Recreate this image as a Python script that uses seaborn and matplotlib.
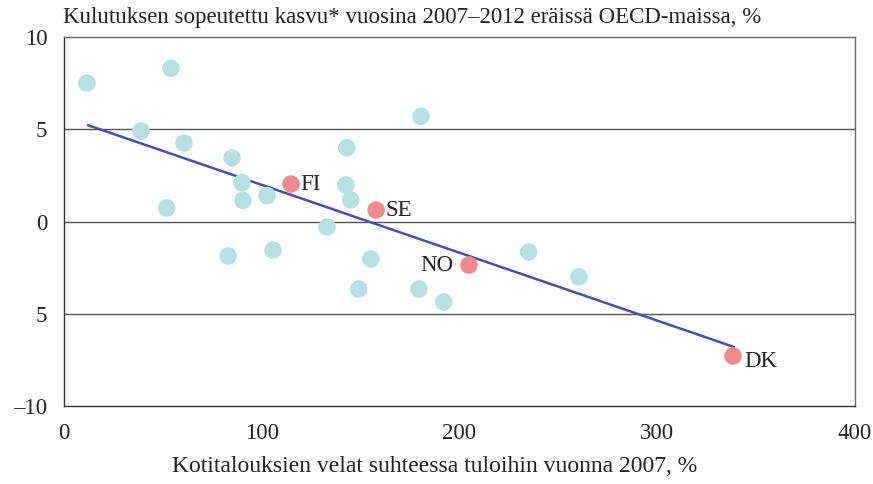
import matplotlib
matplotlib.use("Agg")
import matplotlib.pyplot as plt
import seaborn as sns
import pandas as pd

# Data
other_x = [11.6, 54.1, 38.9, 60.7, 85.0, 90.0, 90.5, 102.7, 52.0, 83.0, 105.7,
           143.0, 142.5, 145.0, 180.5, 133.0, 155.2, 149.0, 179.5, 192.0, 235.0, 260.4]
other_y = [7.5, 8.3, 4.9, 4.25, 3.45, 2.1, 1.15, 1.4, 0.73, -1.87, -1.55,
           4.0, 1.98, 1.17, 5.7, -0.3, -2.03, -3.66, -3.66, -4.36, -1.65, -3.0]
nordic_labels = ["FI", "SE", "NO", "DK"]
nordic_x = [114.8, 157.8, 204.8, 338.3]
nordic_y = [2.03, 0.62, -2.36, -7.29]
trend_x = [12.1, 338.8]
trend_y = [5.22, -6.8]
yticks = [10, 5, 0, -5, -10]
ytick_labels = ["10", "5", "0", "5", "\u201310"]
xticks = [0, 100, 200, 300, 400]
title = "Kulutuksen sopeutettu kasvu* vuosina 2007\u20132012 eräissä OECD-maissa, %"
xlabel = "Kotitalouksien velat suhteessa tuloihin vuonna 2007, %"

sns.set_theme(style="white")
plt.rcParams["font.family"] = ["Liberation Serif", "DejaVu Serif"]

df = pd.DataFrame({
    "x": other_x + nordic_x,
    "y": other_y + nordic_y,
    "group": ["other"] * len(other_x) + ["nordic"] * len(nordic_x),
})

fig = plt.figure(figsize=(8.73, 4.84), dpi=100)
ax = fig.add_axes([64 / 873, 1 - 406 / 484, (855 - 64) / 873, (406 - 37) / 484])

for yv in [5, 0, -5]:
    ax.axhline(yv, color="#555555", lw=1.0, zorder=1)

sns.lineplot(x=trend_x, y=trend_y, ax=ax, color="#4a4fa8", lw=1.8, zorder=2)
sns.scatterplot(data=df, x="x", y="y", hue="group",
                palette={"other": "#b6e0e1", "nordic": "#ef8b90"},
                s=160, linewidth=0, ax=ax, legend=False, zorder=3)

offsets = {"FI": (7, 0, "left"), "SE": (7, 0, "left"), "NO": (-11, 0, "right"),
           "DK": (8, -4, "left")}
for lab, xv, yv in zip(nordic_labels, nordic_x, nordic_y):
    dx, dy, ha = offsets[lab]
    ax.annotate(lab, (xv, yv), xytext=(dx, dy), textcoords="offset points",
                ha=ha, va="center", fontsize=16.5, color="#222222")

ax.set_xlim(0, 400)
ax.set_ylim(-10, 10)
ax.set_xticks(xticks)
ax.set_xticklabels([str(t) for t in xticks])
ax.set_yticks(yticks)
ax.set_yticklabels(ytick_labels)
ax.tick_params(axis="x", direction="in", length=7, width=0.8, color="#555555",
               labelsize=16.5, pad=12, labelcolor="#222222")
ax.tick_params(axis="y", length=0, labelsize=16.5, pad=12, labelcolor="#222222")
ax.set_xlabel(xlabel, fontsize=17, color="#222222")
ax.xaxis.set_label_coords(0.468, -0.135)
ax.set_ylabel("")

for side in ["left", "bottom"]:
    ax.spines[side].set_color("#333333")
    ax.spines[side].set_linewidth(1.0)
for side in ["top", "right"]:
    ax.spines[side].set_color("#666666")
    ax.spines[side].set_linewidth(1.0)

fig.text(63 / 873, 1 - 18 / 484, title, fontsize=16.5, color="#222222",
         ha="left", va="center")

fig.savefig("out.png", dpi=100)
